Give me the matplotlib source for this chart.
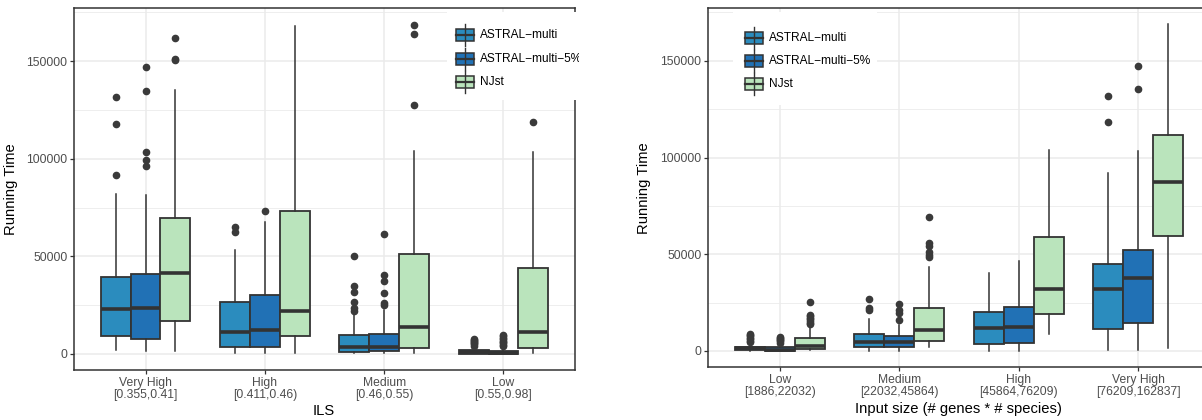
import matplotlib
matplotlib.use("Agg")
import matplotlib.pyplot as plt
from matplotlib.patches import Rectangle
from matplotlib.ticker import MultipleLocator

plt.rcParams['font.family'] = ['Liberation Sans', 'DejaVu Sans']

methods = ['ASTRAL−multi', 'ASTRAL−multi−5%', 'NJst']
colors = ['#2B8CBE', '#2171B5', '#BAE4BC']

# ILS panel: [whisker low, q1, median, q3, whisker high] per category
ils_labels = ['Very High\n[0.355,0.41]', 'High\n[0.411,0.46)',
              'Medium\n[0.46,0.55)', 'Low\n[0.55,0.98]']
ils_am = [[1700, 9200, 22800, 39200, 82100],
          [300, 3700, 11200, 26400, 53100],
          [200, 1000, 3400, 9500, 19900],
          [0, 100, 700, 1700, 3700]]
ils_am_out = [[91800, 117800, 131500],
              [62200, 65100],
              [22100, 23300, 26400, 31500, 34700, 50100],
              [4200, 4800, 5400, 6000, 6600, 7200, 7800]]
ils_a5 = [[1500, 7500, 23300, 40900, 81200],
          [300, 3700, 12300, 30000, 67600],
          [200, 1200, 3700, 10200, 22500],
          [0, 100, 600, 1500, 3500]]
ils_a5_out = [[96200, 99600, 103400, 135000, 146800],
              [73100],
              [24900, 25900, 31000, 37300, 40400, 61600],
              [4000, 4700, 5400, 6100, 6800, 7500, 8200, 8900, 9500]]
ils_nj = [[1200, 16900, 41500, 69700, 135400],
          [200, 9200, 22100, 73200, 168100],
          [200, 3200, 13500, 51400, 103900],
          [200, 2900, 11100, 44100, 103400]]
ils_nj_out = [[150700, 151200, 162100],
              [],
              [127400, 163800, 168400],
              [119000]]

# input size panel
size_labels = ['Low\n[1886,22032)', 'Medium\n[22032,45864)',
               'High\n[45864,76209)', 'Very High\n[76209,162837]']
size_am = [[200, 500, 1400, 2200, 4300],
           [200, 1900, 4800, 8600, 16400],
           [200, 3400, 11700, 20000, 40200],
           [500, 11400, 32100, 44800, 91900]]
size_am_out = [[4700, 5400, 6100, 6800, 7500, 8200, 8900],
               [21200, 22100, 26900],
               [],
               [118300, 131700]]
size_a5 = [[0, 100, 500, 1900, 4000],
           [200, 1900, 4800, 7800, 13400],
           [200, 4000, 12600, 22600, 46700],
           [500, 14300, 37900, 52200, 103400]]
size_a5_out = [[4300, 4900, 5500, 6100, 6700, 7200],
               [16000, 19800, 21200, 24100],
               [],
               [135500, 147200]]
size_nj = [[500, 1200, 2600, 6600, 12600],
           [2200, 5300, 10900, 22100, 43600],
           [8600, 19000, 31900, 59100, 104000],
           [1700, 59500, 87200, 111700, 169000]]
size_nj_out = [[13900, 14700, 15500, 16300, 17100, 17900, 18700, 25300],
               [48400, 49700, 50900, 54000, 55700, 69500],
               [],
               []]

W, H = 1202, 420
fig = plt.figure(figsize=(W / 100, H / 100), dpi=100, facecolor='white')


def px_axes(x0, y0, x1, y1, **kw):
    return fig.add_axes([x0 / W, 1 - y1 / H, (x1 - x0) / W, (y1 - y0) / H], **kw)


def panel(ax, labels, series):
    n = len(labels)
    offsets = [-0.25, 0.0, 0.25]
    for (five, outs), off, col in zip(series, offsets, colors):
        stats = []
        for f, o in zip(five, outs):
            stats.append(dict(whislo=f[0], q1=f[1], med=f[2], q3=f[3],
                              whishi=f[4], fliers=o))
        ax.bxp(stats, positions=[i + 1 + off for i in range(n)], widths=0.25,
               patch_artist=True, showcaps=False, manage_ticks=False,
               boxprops=dict(facecolor=col, edgecolor='#333333', linewidth=1.3),
               medianprops=dict(color='#333333', linewidth=2.6, solid_capstyle='butt'),
               whiskerprops=dict(color='#333333', linewidth=1.1),
               flierprops=dict(marker='o', markerfacecolor='#3A3A3A',
                               markeredgecolor='#3A3A3A', markersize=4.5))
    ax.set_xlim(0.4, n + 0.6)
    ax.set_ylim(-8300, 177300)
    ax.set_xticks(range(1, n + 1))
    ax.set_xticklabels(labels, linespacing=1.08)
    ax.set_yticks([0, 50000, 100000, 150000])
    ax.set_yticklabels(['0', '50000', '100000', '150000'])
    ax.yaxis.set_minor_locator(MultipleLocator(25000))
    ax.set_axisbelow(True)
    ax.grid(which='major', color='#EBEBEB', linewidth=1.1)
    ax.grid(which='minor', axis='y', color='#EBEBEB', linewidth=0.6)
    ax.tick_params(which='major', length=3.2, width=0.9, color='#333333',
                   labelsize=8.7, labelcolor='#4D4D4D', pad=1.5)
    ax.tick_params(which='minor', length=0)
    for s in ax.spines.values():
        s.set_color('#333333')
        s.set_linewidth(1.1)


def legend_box(x0, y0, x1, y1, key_x, rows, text_x):
    lax = px_axes(x0, y0, x1, y1)
    lax.set_xlim(x0, x1)
    lax.set_ylim(y1, y0)
    lax.set_xticks([])
    lax.set_yticks([])
    for s in lax.spines.values():
        s.set_visible(False)
    lax.set_facecolor('white')
    kw = 18
    for name, col, yc in zip(methods, colors, rows):
        xc = key_x + kw / 2
        lax.plot([xc, xc], [yc - 11, yc + 11], color='#333333', lw=1.0)
        lax.add_patch(Rectangle((key_x, yc - 6), kw, 12, facecolor=col,
                                edgecolor='#333333', lw=1.1))
        lax.plot([key_x, key_x + kw], [yc, yc], color='#333333', lw=1.6)
        lax.text(text_x, yc, name, fontsize=8.6, va='center', ha='left',
                 color='black', clip_on=True)


ax1 = px_axes(74, 8, 575, 370)
panel(ax1, ils_labels, [(ils_am, ils_am_out), (ils_a5, ils_a5_out),
                        (ils_nj, ils_nj_out)])
ax2 = px_axes(708, 8, 1210, 367)
panel(ax2, size_labels, [(size_am, size_am_out), (size_a5, size_a5_out),
                         (size_nj, size_nj_out)])

fig.text(11 / W, 1 - 189 / H, 'Running Time', rotation=90, ha='center',
         va='center', fontsize=10.6)
fig.text(644 / W, 1 - 188 / H, 'Running Time', rotation=90, ha='center',
         va='center', fontsize=10.6)
fig.text(324 / W, 1 - 411 / H, 'ILS', ha='center', va='center', fontsize=10.6)
fig.text(958 / W, 1 - 409 / H, 'Input size (# genes * # species)',
         ha='center', va='center', fontsize=10.6)

legend_box(447, 12, 579, 100, 456, [35, 59, 82], 480)
legend_box(733, 12, 877, 105, 745, [38, 61, 84], 769)

fig.savefig('out.png', dpi=100, facecolor='white')
